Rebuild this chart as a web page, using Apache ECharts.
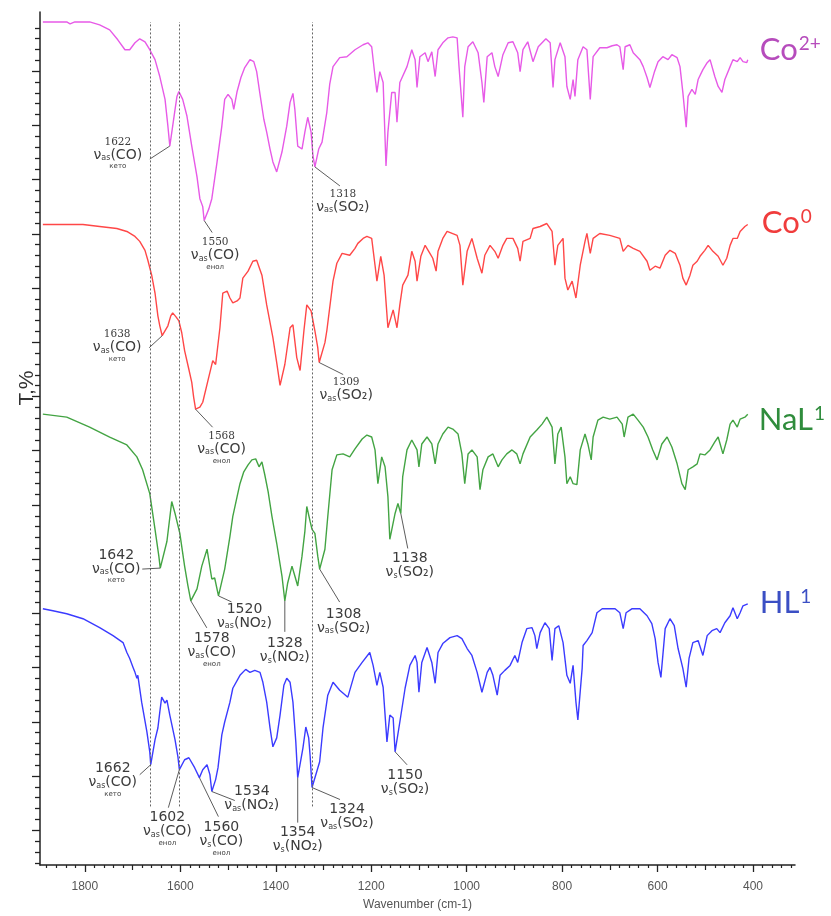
<!DOCTYPE html>
<html>
<head>
<meta charset="utf-8">
<title>IR spectra</title>
<script src="https://cdn.jsdelivr.net/npm/echarts/dist/echarts.min.js"></script>
<style>
  html, body { margin: 0; padding: 0; background: #fff; }
  #chart { width: 831px; height: 916px; }
</style>
</head>
<body>
<div id="chart"></div>
<script>
// Spectra: [wavenumber (cm-1), transmittance in stacked offset units]
const spectrumCo2 = [
  [1888,849],[1838,849],[1831,847],[1821,849],[1790,849],[1769,846],[1748,841],[1731,831],[1716,821],[1706,821],
  [1695,828],[1685,832],[1674,829],[1664,821],[1653,811],[1643,794],[1632,771],[1626,744],[1622,724],[1616,744],
  [1611,761],[1607,774],[1603,779],[1595,771],[1586,754],[1576,724],[1565,693],[1559,671],[1553,663],[1550,649],
  [1540,661],[1534,671],[1523,708],[1513,744],[1507,771],[1500,776],[1492,771],[1488,761],[1481,779],[1473,793],
  [1465,803],[1454,811],[1446,809],[1440,799],[1433,776],[1425,751],[1419,738],[1412,721],[1406,708],[1398,698],
  [1387,718],[1377,744],[1370,768],[1364,777],[1360,761],[1354,724],[1345,721],[1339,738],[1333,753],[1326,738],
  [1322,714],[1318,703],[1310,721],[1303,728],[1293,758],[1287,786],[1280,804],[1266,813],[1251,814],[1234,821],
  [1217,826],[1207,828],[1199,824],[1192,794],[1188,778],[1182,799],[1175,788],[1169,704],[1165,738],[1157,778],
  [1150,778],[1146,748],[1140,788],[1125,804],[1115,821],[1108,811],[1104,783],[1098,814],[1087,818],[1081,809],
  [1073,819],[1066,794],[1060,821],[1050,828],[1039,833],[1029,834],[1020,833],[1016,804],[1008,753],[1004,804],
  [997,824],[987,829],[976,818],[968,788],[964,768],[957,814],[947,818],[941,804],[934,794],[924,816],
  [913,828],[903,829],[893,818],[888,799],[882,821],[872,829],[861,809],[850,824],[834,832],[825,828],
  [819,783],[815,811],[804,828],[794,814],[790,784],[783,771],[777,791],[773,774],[767,811],[756,824],
  [748,821],[741,771],[735,814],[721,823],[706,823],[695,825],[685,826],[679,824],[672,801],[668,824],
  [658,826],[651,818],[643,814],[637,811],[630,804],[622,793],[616,783],[607,798],[599,809],[589,814],
  [578,811],[570,816],[559,813],[553,804],[547,778],[540,743],[536,774],[528,781],[521,776],[515,791],
  [505,801],[496,808],[490,811],[480,794],[473,784],[465,778],[459,791],[448,804],[442,811],[433,809],
  [427,813],[421,809],[413,808],[411,811]
];

const spectrumCo0 = [
  [1888,645],[1804,645],[1769,643],[1733,641],[1712,638],[1695,633],[1685,628],[1674,619],[1668,609],[1660,594],
  [1653,576],[1647,553],[1643,543],[1638,533],[1626,543],[1620,553],[1616,556],[1609,552],[1603,548],[1597,536],
  [1591,518],[1582,499],[1576,486],[1572,471],[1568,459],[1559,461],[1553,466],[1542,488],[1532,508],[1526,504],
  [1517,541],[1511,576],[1502,578],[1496,571],[1490,566],[1481,568],[1475,571],[1469,591],[1458,598],[1448,608],
  [1440,609],[1429,594],[1419,564],[1406,531],[1398,506],[1391,483],[1381,504],[1370,541],[1364,544],[1356,511],
  [1349,498],[1341,538],[1335,564],[1326,558],[1318,538],[1312,521],[1309,506],[1297,526],[1293,538],[1280,588],
  [1272,606],[1261,616],[1245,614],[1234,621],[1228,626],[1217,631],[1209,633],[1199,631],[1192,604],[1188,588],
  [1180,613],[1173,594],[1165,541],[1154,559],[1146,541],[1140,564],[1134,584],[1123,594],[1115,618],[1108,608],
  [1104,588],[1096,613],[1087,624],[1077,616],[1071,611],[1064,598],[1060,618],[1050,631],[1041,638],[1020,634],
  [1014,624],[1008,584],[999,618],[989,631],[978,611],[968,596],[962,614],[951,624],[941,618],[934,611],
  [924,624],[916,631],[903,631],[893,621],[888,608],[882,628],[867,631],[861,641],[846,643],[832,646],
  [821,638],[815,604],[809,624],[798,631],[794,591],[788,579],[779,588],[771,571],[762,604],[752,628],
  [748,636],[741,616],[735,631],[721,636],[700,634],[679,631],[672,618],[662,624],[651,621],[637,618],
  [622,608],[616,599],[605,603],[595,601],[584,614],[574,619],[563,616],[553,604],[547,591],[540,584],
  [532,594],[526,604],[517,608],[511,613],[501,619],[494,624],[484,618],[473,613],[463,604],[455,611],
  [448,624],[442,631],[433,631],[427,638],[417,643],[411,645]
];

const spectrumNaL = [
  [1888,454],[1838,451],[1790,441],[1748,431],[1712,423],[1691,411],[1679,398],[1664,374],[1653,338],[1645,311],
  [1642,299],[1628,326],[1618,366],[1611,354],[1601,334],[1591,301],[1584,281],[1578,266],[1565,278],[1555,301],
  [1544,318],[1534,288],[1528,289],[1520,271],[1507,298],[1496,331],[1490,351],[1481,371],[1475,384],[1467,396],
  [1458,403],[1450,408],[1442,409],[1435,401],[1429,406],[1423,393],[1416,376],[1408,351],[1398,324],[1387,291],
  [1381,266],[1375,284],[1366,301],[1360,291],[1354,281],[1345,311],[1339,336],[1335,361],[1328,346],[1324,338],
  [1318,334],[1312,311],[1308,298],[1297,318],[1291,351],[1282,398],[1272,413],[1259,414],[1245,411],[1234,419],
  [1219,429],[1209,433],[1199,431],[1192,418],[1186,384],[1178,411],[1171,401],[1165,371],[1161,328],[1150,354],
  [1144,364],[1138,354],[1134,391],[1125,418],[1115,428],[1104,418],[1100,401],[1094,424],[1083,431],[1073,424],
  [1066,404],[1060,424],[1050,434],[1039,441],[1029,439],[1018,434],[1010,414],[1004,384],[997,414],[989,418],
  [978,411],[972,378],[966,398],[955,411],[945,414],[934,401],[926,408],[916,414],[905,418],[895,414],
  [888,404],[882,414],[867,431],[853,438],[842,444],[832,451],[821,441],[815,404],[809,434],[802,441],
  [794,411],[790,384],[783,391],[777,384],[769,383],[762,418],[752,434],[746,424],[739,408],[735,431],
  [725,448],[714,451],[700,449],[685,451],[674,444],[670,431],[662,451],[651,454],[641,448],[630,441],
  [620,431],[610,418],[601,408],[591,424],[580,431],[570,421],[559,404],[549,384],[542,378],[536,398],
  [526,401],[517,404],[511,414],[501,413],[490,418],[480,426],[473,431],[463,414],[455,428],[448,444],
  [442,448],[433,441],[427,449],[417,451],[411,454]
];

const spectrumHL = [
  [1888,258],[1867,256],[1838,253],[1804,248],[1769,239],[1741,231],[1720,224],[1712,214],[1706,208],[1699,199],
  [1695,194],[1691,188],[1689,191],[1681,164],[1670,134],[1664,114],[1662,101],[1653,126],[1647,138],[1643,154],
  [1639,169],[1632,163],[1628,166],[1622,151],[1611,126],[1605,109],[1602,96],[1591,106],[1582,108],[1570,98],
  [1560,88],[1553,96],[1544,101],[1538,91],[1534,74],[1526,86],[1521,98],[1513,131],[1507,144],[1496,164],
  [1490,178],[1475,191],[1463,197],[1454,194],[1444,196],[1433,194],[1427,184],[1419,164],[1412,138],[1406,119],
  [1398,128],[1391,151],[1383,181],[1377,188],[1370,184],[1364,164],[1358,124],[1354,88],[1343,118],[1337,139],
  [1331,128],[1328,110],[1324,78],[1308,104],[1301,138],[1291,171],[1280,184],[1266,176],[1249,169],[1234,194],
  [1219,204],[1203,214],[1196,201],[1188,181],[1182,194],[1175,179],[1167,124],[1161,151],[1154,148],[1150,114],
  [1140,144],[1129,178],[1119,201],[1108,211],[1104,204],[1100,174],[1094,204],[1083,219],[1073,204],[1066,183],
  [1060,214],[1050,223],[1035,229],[1020,231],[1010,228],[999,218],[989,211],[978,194],[968,174],[957,194],
  [951,199],[945,191],[936,171],[930,191],[920,196],[909,201],[899,211],[893,204],[884,224],[874,238],
  [863,239],[857,231],[853,218],[846,234],[836,244],[827,238],[821,206],[815,238],[807,241],[798,224],
  [790,191],[783,183],[777,201],[771,164],[767,146],[758,198],[756,221],[748,226],[737,234],[727,254],
  [716,258],[704,258],[689,258],[679,254],[672,238],[666,254],[654,258],[637,258],[622,251],[612,243],
  [605,228],[599,204],[593,189],[584,238],[574,248],[565,241],[557,218],[547,198],[540,179],[534,208],
  [526,224],[515,226],[505,211],[496,231],[486,236],[476,238],[469,234],[459,244],[448,251],[442,259],
  [433,248],[427,254],[421,261],[411,263]
];

// Sample names drawn at the end of each trace
const sampleNames = ['Co2+', 'Co0', 'NaL1', 'HL1'];

// Axis ticks
const xTickLabels = [1800, 1600, 1400, 1200, 1000, 800, 600, 400];
const xMidTicks = [1700, 1500, 1300, 1100, 900, 700, 500];
const xMinorTicks = [];
for (let w = 320; w <= 1880; w += 20) {
  if (w % 100 !== 0) xMinorTicks.push(w);
}
const yMajorTicks = [];
const yMinorTicks = [];
for (let k = -3; k <= 74; k++) {
  const v = 35 + k * 10.92;
  if (k % 5 === 0) yMajorTicks.push(v); else yMinorTicks.push(v);
}

// Reference wavenumbers marked by dotted guides
const guideWavenumbers = [1662, 1602, 1324];
const guideSpan = [59, 849];

// Band assignments: which trace, where the leader points, printed number, mode, group, form
const peakLabels = [
  { trace: 'co2', wn: 1622, num: '1622', mode: 'as', group: '(CO)', note: 'кето' },
  { trace: 'co2', wn: 1550, num: '1550', mode: 'as', group: '(CO)', note: 'енол' },
  { trace: 'co2', wn: 1318, num: '1318', mode: 'as', group: '(SO₂)', note: '' },
  { trace: 'co0', wn: 1638, num: '1638', mode: 'as', group: '(CO)', note: 'кето' },
  { trace: 'co0', wn: 1568, num: '1568', mode: 'as', group: '(CO)', note: 'енол' },
  { trace: 'co0', wn: 1309, num: '1309', mode: 'as', group: '(SO₂)', note: '' },
  { trace: 'nal', wn: 1642, num: '1642', mode: 'as', group: '(CO)', note: 'кето' },
  { trace: 'nal', wn: 1578, num: '1578', mode: 'as', group: '(CO)', note: 'енол' },
  { trace: 'nal', wn: 1520, num: '1520', mode: 'as', group: '(NO₂)', note: '' },
  { trace: 'nal', wn: 1381, num: '1328', mode: 's', group: '(NO₂)', note: '' },
  { trace: 'nal', wn: 1308, num: '1308', mode: 'as', group: '(SO₂)', note: '' },
  { trace: 'nal', wn: 1138, num: '1138', mode: 's', group: '(SO₂)', note: '' },
  { trace: 'hl', wn: 1662, num: '1662', mode: 'as', group: '(CO)', note: 'кето' },
  { trace: 'hl', wn: 1602, num: '1602', mode: 'as', group: '(CO)', note: 'енол' },
  { trace: 'hl', wn: 1560, num: '1560', mode: 's', group: '(CO)', note: 'енол' },
  { trace: 'hl', wn: 1534, num: '1534', mode: 'as', group: '(NO₂)', note: '' },
  { trace: 'hl', wn: 1354, num: '1354', mode: 's', group: '(NO₂)', note: '' },
  { trace: 'hl', wn: 1324, num: '1324', mode: 'as', group: '(SO₂)', note: '' },
  { trace: 'hl', wn: 1150, num: '1150', mode: 's', group: '(SO₂)', note: '' }
];

// Leader end and text-block top-centre, in pixels relative to the band minimum
const peakLabelLayout = [
  { lead: [-20, 13], text: [-52, -10], size: 'small' },
  { lead: [8, 12], text: [11, 16], size: 'small' },
  { lead: [25, 19], text: [28, 21], size: 'small' },
  { lead: [-13, 12], text: [-45, -7], size: 'small' },
  { lead: [17, 18], text: [26, 21], size: 'small' },
  { lead: [24, 12], text: [27, 14], size: 'small' },
  { lead: [-18, 1], text: [-44, -20], size: 'large' },
  { lead: [16, 27], text: [21, 31], size: 'large' },
  { lead: [13, 6], text: [26, 6], size: 'large' },
  { lead: [0, 31], text: [0, 36], size: 'large' },
  { lead: [20, 33], text: [24, 38], size: 'large' },
  { lead: [7, 35], text: [9, 38], size: 'large' },
  { lead: [-11, 10], text: [-38, -3], size: 'large' },
  { lead: [-11, 38], text: [-12, 41], size: 'large' },
  { lead: [19, 39], text: [22, 43], size: 'large' },
  { lead: [23, 9], text: [40, -7], size: 'large' },
  { lead: [0, 45], text: [0, 48], size: 'large' },
  { lead: [28, 12], text: [35, 15], size: 'large' },
  { lead: [12, 13], text: [10, 17], size: 'large' }
];

const traces = { co2: spectrumCo2, co0: spectrumCo0, nal: spectrumNaL, hl: spectrumHL };

function valueAt(trace, wn) {
  const pts = traces[trace];
  let best = pts[0];
  for (const p of pts) {
    if (Math.abs(p[0] - wn) < Math.abs(best[0] - wn)) best = p;
  }
  return best[1];
}

const textColor = '#3c3c3c';
const labelRich = {
  small: {
    n: { fontFamily: 'DejaVu Serif', fontSize: 10.5, color: textColor, lineHeight: 12 },
    v: { fontFamily: 'DejaVu Sans', fontSize: 14, color: textColor, lineHeight: 14 },
    s: { fontFamily: 'DejaVu Sans', fontSize: 8, color: textColor, verticalAlign: 'bottom', lineHeight: 14 },
    k: { fontFamily: 'DejaVu Sans', fontSize: 7, color: '#555', lineHeight: 9 }
  },
  large: {
    n: { fontFamily: 'DejaVu Sans', fontSize: 14, color: textColor, lineHeight: 14 },
    v: { fontFamily: 'DejaVu Sans', fontSize: 14, color: textColor, lineHeight: 14 },
    s: { fontFamily: 'DejaVu Sans', fontSize: 8, color: textColor, verticalAlign: 'bottom', lineHeight: 14 },
    k: { fontFamily: 'DejaVu Sans', fontSize: 7, color: '#555', lineHeight: 9 }
  }
};

function labelText(p) {
  let t = '{n|' + p.num + '}\n{v|ν}{s|' + p.mode + '}{v|' + p.group + '}';
  if (p.note) t += '\n{k|' + p.note + '}';
  return t;
}

const annotationData = peakLabels.map(p => [p.wn, valueAt(p.trace, p.wn)]);

const lineColors = ['#e75ae7', '#ff4747', '#43a443', '#3b3bff'];
const nameColors = ['#b64cbc', '#f03c3c', '#2f8c3c', '#3b4fc4'];
const nameOffsets = [[12, -10], [14, -2], [11, 6], [12, -1]];
const nameTexts = ['{b|Co}{p|2+}', '{b|Co}{p|0}', '{b|NaL}{p|1}', '{b|HL}{p|1}'];
const spectra = [spectrumCo2, spectrumCo0, spectrumNaL, spectrumHL];

const chart = echarts.init(document.getElementById('chart'), null, { renderer: 'canvas' });

const baseX = { type: 'value', min: 312, max: 1894, inverse: true, position: 'bottom', offset: 0, splitLine: { show: false } };
const baseY = { type: 'value', min: 0, max: 859, position: 'left', offset: 0, splitLine: { show: false }, axisLabel: { show: false } };

const series = spectra.map((data, i) => ({
  name: sampleNames[i],
  type: 'line',
  data: data,
  showSymbol: false,
  symbol: 'none',
  lineStyle: { color: lineColors[i], width: 1.4 },
  animation: false,
  z: 3,
  endLabel: {
    show: true,
    align: 'left',
    verticalAlign: 'middle',
    distance: 0,
    formatter: nameTexts[i],
    offset: nameOffsets[i],
    rich: {
      b: { fontFamily: 'Lato', fontSize: 31, color: nameColors[i] },
      p: { fontFamily: 'Lato', fontSize: 19, color: nameColors[i], verticalAlign: 'top', padding: [0, 0, 12, 1] }
    }
  }
}));

// dotted guides
series.push({
  type: 'line',
  data: [],
  silent: true,
  animation: false,
  markLine: {
    symbol: 'none',
    silent: true,
    label: { show: false },
    lineStyle: { type: [2, 2], color: '#666', width: 1 },
    data: guideWavenumbers.map(w => [{ coord: [w, guideSpan[0]] }, { coord: [w, guideSpan[1]] }])
  }
});

// band labels with leaders
series.push({
  type: 'custom',
  data: annotationData,
  animation: false,
  clip: false,
  z: 5,
  renderItem: function (params, api) {
    const p = peakLabels[params.dataIndex];
    const lay = peakLabelLayout[params.dataIndex];
    const c = api.coord([api.value(0), api.value(1)]);
    return {
      type: 'group',
      children: [
        { type: 'line', shape: { x1: c[0], y1: c[1], x2: c[0] + lay.lead[0], y2: c[1] + lay.lead[1] },
          style: { stroke: '#4a4a4a', lineWidth: 0.9 } },
        { type: 'text', x: c[0] + lay.text[0], y: c[1] + lay.text[1],
          style: { text: labelText(p), rich: labelRich[lay.size], align: 'center', verticalAlign: 'top', fill: textColor } }
      ]
    };
  }
});

chart.setOption({
  animation: false,
  backgroundColor: '#fff',
  grid: { left: 40, right: 36, top: 12, bottom: 45, containLabel: false },
  xAxis: [
    Object.assign({}, baseX, {
      name: 'Wavenumber (cm-1)',
      nameLocation: 'middle',
      nameGap: 34,
      nameTextStyle: { fontFamily: 'Liberation Sans', fontSize: 12, color: '#555' },
      axisLine: { show: true, lineStyle: { color: '#222', width: 1.5 } },
      axisTick: { show: true, length: 7, customValues: xTickLabels, lineStyle: { color: '#222', width: 1.3 } },
      axisLabel: { show: true, customValues: xTickLabels, margin: 16, fontFamily: 'Liberation Sans', fontSize: 12, color: '#555',
        formatter: function (v) { return String(v); } }
    }),
    Object.assign({}, baseX, {
      axisLine: { show: false },
      axisTick: { show: true, length: 5, customValues: xMidTicks, lineStyle: { color: '#222', width: 1.2 } },
      axisLabel: { show: false }
    }),
    Object.assign({}, baseX, {
      axisLine: { show: false },
      axisTick: { show: true, length: 3, customValues: xMinorTicks, lineStyle: { color: '#222', width: 1.2 } },
      axisLabel: { show: false }
    })
  ],
  yAxis: [
    Object.assign({}, baseY, {
      axisLine: { show: true, lineStyle: { color: '#222', width: 1.5 } },
      axisTick: { show: true, length: 8, customValues: yMajorTicks, lineStyle: { color: '#222', width: 1.3 } }
    }),
    Object.assign({}, baseY, {
      axisLine: { show: false },
      axisTick: { show: true, length: 5, customValues: yMinorTicks, lineStyle: { color: '#222', width: 1.3 } }
    })
  ],
  graphic: [
    {
      type: 'text',
      x: 27, y: 388,
      rotation: Math.PI / 2,
      style: { text: 'T,%', fontFamily: 'Liberation Sans', fontSize: 21, fill: '#333', align: 'center', verticalAlign: 'middle' }
    }
  ],
  series: series
});
</script>
</body>
</html>
